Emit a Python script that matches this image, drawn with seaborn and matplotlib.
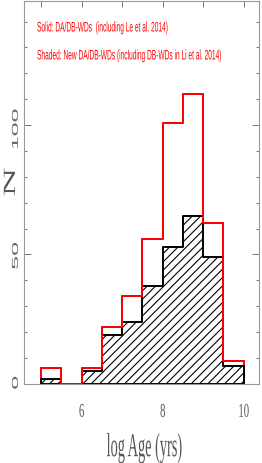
import numpy as np
import matplotlib
matplotlib.use('Agg')
import matplotlib.pyplot as plt
import seaborn as sns
from matplotlib.patheffects import AbstractPathEffect
from matplotlib.transforms import Affine2D
from matplotlib.ticker import MultipleLocator

# bins in log age and number of WDs per bin
log_age_edges = [5.0, 5.5, 6.0, 6.5, 7.0, 7.5, 8.0, 8.5, 9.0, 9.5, 10.0]
n_all = [6, 0, 6, 22, 34, 56, 101, 112, 62, 9]   # solid, red
n_new = [2, 0, 5, 19, 24, 38, 53, 65, 49, 7]     # shaded

x_ticks = [6, 8, 10]
y_ticks = [0, 50, 100]
notes = ['Solid: DA/DB-WDs  (including Le et al. 2014)',
         'Shaded: New DA/DB-WDs (including DB-WDs in Li et al. 2014)']


class Stretch(AbstractPathEffect):
    """stretch glyphs vertically (the original figure was squeezed sideways)"""
    def __init__(self, sy, anchor='center'):
        super().__init__()
        self.sy = sy
        self.anchor = anchor

    def draw_path(self, renderer, gc, tpath, affine, rgbFace=None):
        ext = tpath.get_extents(affine)
        if self.anchor == 'origin':
            cy = affine.get_matrix()[1, 2]
        elif self.anchor == 'top':
            cy = ext.y1
        else:
            cy = (ext.y0 + ext.y1) / 2
        stretch = Affine2D().translate(0, -cy).scale(1, self.sy).translate(0, cy)
        renderer.draw_path(gc, tpath, affine + stretch, rgbFace)


sns.set_style('ticks')
plt.rcParams['font.family'] = ['Liberation Serif', 'DejaVu Serif']
plt.rcParams['hatch.linewidth'] = 0.8

fig = plt.figure(figsize=(2.62, 4.63), dpi=100)
ax = fig.add_axes([0.092, 0.171, 0.897, 0.827])

centers = (np.array(log_age_edges[:-1]) + np.array(log_age_edges[1:])) / 2

# red outline incl. the end verticals, then the hatched histogram, then red steps on top
sns.histplot(x=centers, weights=n_all, bins=log_age_edges, element='step', fill=True,
             color='red', facecolor='none', edgecolor='red', linewidth=1.4, zorder=1, ax=ax)
sns.histplot(x=centers, weights=n_new, bins=log_age_edges, element='step', fill=True,
             color='black', facecolor='white', edgecolor='black', hatch='////',
             linewidth=1.4, zorder=2, ax=ax)
sns.histplot(x=centers, weights=n_all, bins=log_age_edges, element='step', fill=False,
             color='red', linewidth=1.4, zorder=3, ax=ax)

ax.set_xlim(4.58, 10.38)
ax.set_ylim(0, 148)
ax.set_xticks(x_ticks)
ax.set_yticks(y_ticks)
ax.xaxis.set_minor_locator(MultipleLocator(1))
ax.yaxis.set_minor_locator(MultipleLocator(10))

ax.tick_params(which='both', direction='in', top=True, right=True, color='#777', width=0.7)
ax.tick_params(axis='x', which='both', length=4, pad=14.5, labelsize=7.7, labelcolor='#555')
ax.tick_params(axis='y', which='major', length=5)
ax.tick_params(axis='y', which='minor', length=2)
ax.tick_params(axis='y', labelrotation=90, pad=3, labelsize=6.3, labelcolor='#666')

for s in ax.spines.values():
    s.set_color('#999')
    s.set_linewidth(0.8)

for lab in ax.get_xticklabels():
    lab.set_path_effects([Stretch(1.82, 'top')])
for lab in ax.get_yticklabels():
    lab.set_fontfamily('Liberation Sans')
    lab.set_path_effects([Stretch(2.86)])

ax.set_xlabel('log Age (yrs)', fontsize=10.3, color='#555')
ax.xaxis.set_label_coords(0.511, -0.189)
ax.xaxis.label.set_va('baseline')
ax.xaxis.label.set_path_effects([Stretch(2.33, 'origin')])

ax.set_ylabel('N', fontsize=12.2, color='#555')
ax.yaxis.set_label_coords(-0.022, 0.527)
ax.yaxis.label.set_path_effects([Stretch(2.38)])

for i, line in enumerate(notes):
    ax.text(0.055, 0.929 - i * 0.073, line, transform=ax.transAxes, color='red',
            fontsize=4.75, family='Liberation Sans', va='center', ha='left',
            path_effects=[Stretch(2.1)])

fig.savefig('out.png', dpi=100)
